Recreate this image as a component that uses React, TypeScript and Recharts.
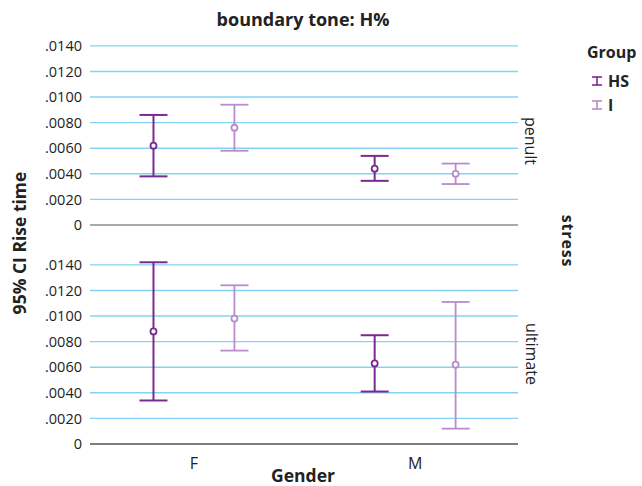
import { ScatterChart, Scatter, XAxis, YAxis, ErrorBar, ReferenceLine } from 'recharts';

const categories = ['F', 'M'];
const groups = ['HS', 'I'];
const groupColors = ['#7b2a90', '#b98ccb'];

const yTicks = [0, 0.002, 0.004, 0.006, 0.008, 0.01, 0.012, 0.014];
const yTickLabels = ['0', '.0020', '.0040', '.0060', '.0080', '.0100', '.0120', '.0140'];

// penult
const penultHSMean = [0.0062, 0.0044];
const penultHSLow = [0.0038, 0.00345];
const penultHSHigh = [0.0086, 0.0054];
const penultIMean = [0.0076, 0.004];
const penultILow = [0.0058, 0.0032];
const penultIHigh = [0.0094, 0.0048];

// ultimate
const ultimateHSMean = [0.0088, 0.0063];
const ultimateHSLow = [0.0034, 0.0041];
const ultimateHSHigh = [0.0142, 0.0085];
const ultimateIMean = [0.0098, 0.0062];
const ultimateILow = [0.0073, 0.0012];
const ultimateIHigh = [0.0124, 0.0111];

const groupOffset = [-0.183, 0.183];
const font = '"Open Sans", sans-serif';

const toPoints = (mean: number[], low: number[], high: number[], g: number) =>
  mean.map((m, i) => ({
    x: i + groupOffset[g],
    y: m,
    err: [m - low[i], high[i] - m],
  }));

const Dot = (color: string) => (props: any) => (
  <circle cx={props.cx} cy={props.cy} r={3} fill="#fff" stroke={color} strokeWidth={1.8} />
);

const tickFmt = (v: number) => yTickLabels[yTicks.findIndex((t) => Math.abs(t - v) < 1e-9)] ?? '';

interface PanelProps {
  series: { x: number; y: number; err: number[] }[][];
  height: number;
  top: number;
  showX: boolean;
}

const Panel = ({ series, height, top, showX }: PanelProps) => (
  <ScatterChart
    width={642}
    height={height}
    margin={{ top, right: 124, bottom: showX ? 12 : 20, left: 0 }}
  >
    <XAxis
      type="number"
      dataKey="x"
      domain={[-0.47, 1.465]}
      ticks={[0, 1]}
      tickFormatter={(v: number) => categories[v] ?? ''}
      hide={!showX}
      height={30}
      axisLine={{ stroke: '#555', strokeWidth: 1.2 }}
      tickLine={false}
      tickMargin={8}
      tick={{ fontSize: 16, fill: '#222', fontFamily: font }}
    />
    <YAxis
      type="number"
      dataKey="y"
      domain={[0, 0.0143]}
      ticks={yTicks}
      interval={0}
      tickFormatter={tickFmt}
      width={90}
      axisLine={false}
      tickLine={false}
      tickSize={0}
      tickMargin={8}
      tick={{ fontSize: 14.5, fill: '#222', fontFamily: font }}
    />
    {yTicks.slice(1).map((t) => (
      <ReferenceLine key={t} y={t} stroke="#84d4f1" strokeWidth={1.4} />
    ))}
    <ReferenceLine y={0} stroke="#555" strokeWidth={1.2} />
    {series.map((pts, g) => (
      <Scatter
        key={groups[g]}
        data={pts}
        isAnimationActive={false}
        shape={Dot(groupColors[g])}
      >
        <ErrorBar
          dataKey="err"
          direction="y"
          width={14}
          stroke={groupColors[g]}
          strokeWidth={g === 0 ? 2 : 1.8}
          isAnimationActive={false}
        />
      </Scatter>
    ))}
  </ScatterChart>
);

const LegendIcon = ({ color }: { color: string }) => (
  <svg width={12} height={10} style={{ marginRight: 5 }}>
    <line x1={1} y1={1} x2={11} y2={1} stroke={color} strokeWidth={1.6} />
    <line x1={6} y1={1} x2={6} y2={9} stroke={color} strokeWidth={1.6} />
    <line x1={1} y1={9} x2={11} y2={9} stroke={color} strokeWidth={1.6} />
  </svg>
);

export default function App() {
  const penult = [
    toPoints(penultHSMean, penultHSLow, penultHSHigh, 0),
    toPoints(penultIMean, penultILow, penultIHigh, 1),
  ];
  const ultimate = [
    toPoints(ultimateHSMean, ultimateHSLow, ultimateHSHigh, 0),
    toPoints(ultimateIMean, ultimateILow, ultimateIHigh, 1),
  ];

  return (
    <div
      style={{
        position: 'fixed',
        top: 0,
        left: 0,
        width: 642,
        height: 486,
        background: '#fff',
        fontFamily: font,
      }}
    >
      <div style={{ position: 'absolute', top: 0, left: 0 }}>
        <Panel series={penult} height={245} top={42} showX={false} />
      </div>
      <div style={{ position: 'absolute', top: 230, left: 0 }}>
        <Panel series={ultimate} height={256} top={31} showX />
      </div>

      <svg
        width={642}
        height={486}
        style={{ position: 'absolute', top: 0, left: 0, pointerEvents: 'none' }}
        fontFamily={font}
      >
        <text x={303} y={26} textAnchor="middle" fontSize={18} fontWeight="bold" fill="#222">
          boundary tone: H%
        </text>
        <text
          x={19}
          y={243}
          textAnchor="middle"
          dominantBaseline="central"
          fontSize={17.5}
          fontWeight="bold"
          fill="#222"
          transform="rotate(-90 19 243)"
        >
          95% CI Rise time
        </text>
        <text
          x={531}
          y={141}
          textAnchor="middle"
          dominantBaseline="central"
          fontSize={16}
          fill="#222"
          transform="rotate(90 531 141)"
        >
          penult
        </text>
        <text
          x={532}
          y={354}
          textAnchor="middle"
          dominantBaseline="central"
          fontSize={16}
          fill="#222"
          transform="rotate(90 532 354)"
        >
          ultimate
        </text>
        <text
          x={568}
          y={241}
          textAnchor="middle"
          dominantBaseline="central"
          fontSize={16}
          fontWeight="bold"
          fill="#222"
          letterSpacing={0.8}
          transform="rotate(90 568 241)"
        >
          stress
        </text>
        <text x={303} y={482} textAnchor="middle" fontSize={17.5} fontWeight="bold" fill="#222">
          Gender
        </text>
      </svg>

      <div style={{ position: 'absolute', left: 587, top: 42, color: '#222', fontSize: 16 }}>
        <div style={{ fontWeight: 'bold', marginBottom: 7, lineHeight: '20px' }}>Group</div>
        {groups.map((g, i) => (
          <div key={g} style={{ display: 'flex', alignItems: 'center', marginLeft: 4, height: 24, fontWeight: 'bold' }}>
            <LegendIcon color={groupColors[i]} />
            <span>{g}</span>
          </div>
        ))}
      </div>
    </div>
  );
}
